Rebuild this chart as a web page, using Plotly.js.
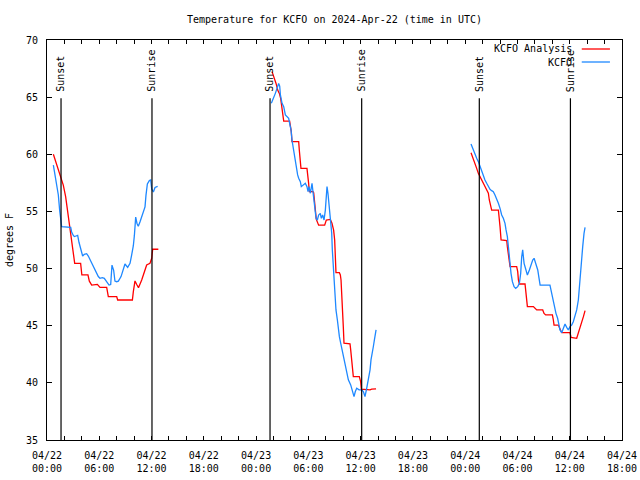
<!DOCTYPE html>
<html>
<head>
<meta charset="utf-8">
<script src="https://cdn.plot.ly/plotly-3.0.1.min.js"></script>
<style>html,body{margin:0;padding:0;background:#fff}#chart{width:640px;height:480px}</style>
</head>
<body>
<div id="chart"></div>
<script>
// Hours since 2024-04-22 00:00 UTC
const analysisHours1 = [0.73,1.3,1.57,1.87,2.14,2.37,2.6,2.83,3.02,3.18,3.86,3.94,4.0,4.7,4.86,5.13,5.7,5.78,6.08,6.85,7.04,8.0,8.11,9.8,9.91,10.1,10.3,10.5,10.87,11.14,11.44,11.82,12.02,12.13,12.78];
const analysisTemp1  = [60.0,58.6,58.0,57.3,56.3,55.0,53.7,52.4,51.5,50.46,50.46,49.59,49.44,49.44,48.9,48.56,48.56,48.62,48.36,48.36,47.55,47.55,47.25,47.25,47.98,48.92,48.6,48.33,49.0,49.73,50.31,50.46,50.9,51.69,51.69];
const analysisHours2 = [25.83,26.1,26.29,26.48,26.67,26.82,26.98,27.09,27.17,27.85,27.94,28.04,28.12,28.89,28.96,29.08,29.15,29.84,29.92,30.03,30.11,30.53,30.61,30.72,30.8,30.91,31.18,31.87,32.06,32.52,32.71,32.9,33.02,33.06,33.14,33.17,33.56,33.67,33.75,33.82,33.9,33.94,34.01,34.09,34.78,34.86,34.97,35.09,35.16,35.85,36.0,36.08,37.08,37.27,37.77];
const analysisTemp2  = [67.23,66.65,66.2,65.62,65.33,64.9,64.17,63.58,62.9,62.9,62.56,61.98,61.1,61.1,60.38,59.5,58.77,58.77,58.33,57.46,56.73,56.73,56.64,55.7,55.12,54.3,53.8,53.8,54.25,54.3,53.96,53.37,52.5,51.33,50.46,49.64,49.64,49.44,49.0,48.13,47.25,46.38,44.92,43.47,43.41,42.88,41.72,40.99,40.55,40.55,40.11,39.45,39.39,39.45,39.48];
const analysisHours3 = [48.67,48.93,49.12,49.32,49.51,49.7,49.89,50.08,50.27,50.47,50.66,50.77,50.93,51.04,51.81,51.89,52.0,52.12,52.77,52.84,52.96,53.07,53.15,53.91,54.03,54.11,54.22,54.87,54.95,55.06,55.14,55.83,56.02,56.21,56.9,57.05,57.24,58.01,58.12,58.2,58.69,58.88,59.08,60.03,60.15,60.8,60.99,61.18,61.37,61.57,61.76];
const analysisTemp3  = [60.14,59.65,59.21,58.77,58.33,58.04,57.75,57.46,57.17,56.88,56.59,56.0,55.42,55.12,55.12,54.69,53.67,52.5,52.44,51.92,51.19,50.75,50.17,50.17,49.73,49.0,48.65,48.65,48.13,47.25,46.67,46.67,46.52,46.38,46.38,46.08,45.94,45.94,45.5,45.06,45.06,44.77,44.39,44.39,43.98,43.9,44.33,44.77,45.35,45.79,46.32];

const obsHours1 = [0.73,0.92,1.11,1.3,1.45,1.57,1.68,2.72,2.83,3.02,3.14,3.33,3.52,3.67,3.9,4.09,4.28,4.55,4.74,5.0,5.32,5.59,5.89,6.08,6.35,6.58,6.85,7.12,7.31,7.46,7.65,7.8,7.99,8.19,8.5,8.76,8.95,9.26,9.53,9.72,9.91,10.03,10.18,10.33,10.48,10.68,10.87,11.14,11.25,11.36,11.52,11.75,11.9,12.02,12.21,12.4,12.7];
const obsTemp1  = [59.06,58.19,57.31,56.44,55.13,54.54,53.67,53.6,53.2,52.9,52.8,52.85,52.9,52.3,51.7,51.1,51.25,51.3,51.1,50.7,50.1,49.7,49.3,49.15,49.2,49.15,48.8,48.56,48.6,50.3,49.85,48.9,48.85,48.9,49.3,49.9,50.4,50.1,50.46,51.2,52.0,52.9,54.5,53.95,53.7,54.1,54.5,55.0,55.4,56.4,57.4,57.7,57.75,56.96,56.7,57.1,57.2];
const obsHours2 = [25.75,26.02,26.21,26.4,26.59,26.71,26.79,26.98,27.17,27.36,27.55,27.74,27.85,28.01,28.12,28.24,28.39,28.5,28.62,28.77,28.89,29.08,29.19,29.46,29.65,29.84,29.96,30.07,30.23,30.42,30.53,30.65,30.76,30.88,31.03,31.18,31.37,31.49,31.64,31.8,31.95,32.14,32.25,32.37,32.48,32.6,32.68,32.75,32.87,32.98,33.06,33.17,33.33,33.44,33.56,33.71,33.86,34.01,34.2,34.4,34.59,34.86,35.09,35.24,35.39,35.55,35.82,36.12,36.31,36.5,36.7,36.89,37.08,37.19,37.35,37.46,37.58,37.77];
const obsTemp2  = [64.46,64.9,65.33,65.77,66.2,65.97,65.19,64.46,64.17,63.44,63.3,63.15,62.71,62.13,61.25,60.67,59.8,59.21,58.63,58.19,57.9,57.6,57.17,57.31,57.46,57.17,56.73,57.17,56.59,57.46,56.59,55.7,54.83,54.4,54.25,54.69,54.83,54.4,54.69,54.25,55.12,57.17,56.59,55.7,54.54,53.67,53.1,51.64,50.17,49.0,47.25,46.38,45.5,44.63,44.04,43.47,42.88,42.3,41.57,40.99,40.26,39.82,39.24,38.8,39.24,39.53,39.39,39.39,39.24,38.8,39.53,40.26,41.14,42.01,42.59,43.18,43.76,44.63];
const obsHours3 = [48.67,48.93,49.12,49.32,49.51,49.7,49.89,50.08,50.27,50.47,50.66,50.85,51.04,51.23,51.42,51.61,51.81,52.0,52.19,52.38,52.57,52.69,52.84,52.96,53.03,53.15,53.26,53.42,53.61,53.8,54.03,54.22,54.37,54.49,54.6,54.76,54.95,55.14,55.37,55.56,55.75,55.91,56.1,56.33,56.48,56.6,57.73,57.93,58.12,58.23,58.42,58.61,58.77,58.88,59.08,59.27,59.46,59.65,59.84,60.03,60.22,60.41,60.6,60.8,60.99,61.1,61.26,61.37,61.49,61.64,61.76];
const obsTemp3  = [60.9,60.38,59.94,59.65,59.36,58.92,58.48,58.04,57.75,57.46,57.17,56.94,56.82,56.73,56.44,56.15,55.71,55.27,54.69,54.4,53.96,53.38,52.79,51.92,51.19,50.31,49.58,48.85,48.42,48.27,48.42,48.71,49.58,51.04,51.63,50.46,49.88,49.44,49.88,50.31,50.75,50.9,50.46,49.88,49.15,48.56,48.56,47.83,47.1,46.67,46.08,45.65,45.06,44.63,44.39,44.77,45.15,44.86,44.63,44.92,45.06,45.35,45.79,46.38,47.25,48.42,49.58,50.75,51.92,53.08,53.61];

const sunsetHours  = [1.61, 25.6, 49.62];
const sunriseHours = [12.05, 36.12, 60.08];
const yTicks = [35, 40, 45, 50, 55, 60, 65, 70];

const seriesNames = ['KCFO Analysis', 'KCFO'];
const seriesColors = ['#ff0000', '#1e88ff'];

const BASE = Date.UTC(2024, 3, 22, 0, 0, 0);
function toDate(h) {
  return new Date(BASE + Math.round(h * 3600000)).toISOString().slice(0, 19).replace('T', ' ');
}
function join(hs, vs) {
  const x = [], y = [];
  hs.forEach((hArr, i) => {
    if (i > 0) { x.push(null); y.push(null); }
    hArr.forEach((h, j) => { x.push(toDate(h)); y.push(vs[i][j]); });
  });
  return {x, y};
}
const an = join([analysisHours1, analysisHours2, analysisHours3], [analysisTemp1, analysisTemp2, analysisTemp3]);
const ob = join([obsHours1, obsHours2, obsHours3], [obsTemp1, obsTemp2, obsTemp3]);

const FONT = 'DejaVu Sans Mono, monospace';
const traces = [
  {x: an.x, y: an.y, type: 'scatter', mode: 'lines', name: seriesNames[0], line: {color: seriesColors[0], width: 1.3}, connectgaps: false},
  {x: ob.x, y: ob.y, type: 'scatter', mode: 'lines', name: seriesNames[1], line: {color: seriesColors[1], width: 1.3}, connectgaps: false}
];

// x ticks every 2 hours, labelled every 6 hours
const tickvals = [], ticktext = [];
for (let h = 0; h <= 66; h += 2) {
  tickvals.push(toDate(h));
  if (h % 6 === 0) {
    const d = new Date(BASE + h * 3600000);
    const mm = String(d.getUTCMonth() + 1).padStart(2, '0');
    const dd = String(d.getUTCDate()).padStart(2, '0');
    const hh = String(d.getUTCHours()).padStart(2, '0');
    ticktext.push(mm + '/' + dd + '<br>' + hh + ':00');
  } else ticktext.push('');
}

const shapes = [], annotations = [];
function sunLine(h, label) {
  shapes.push({type: 'line', xref: 'x', yref: 'y', x0: toDate(h), x1: toDate(h), y0: 35, y1: 64.9, line: {color: '#000', width: 1.2}});
  annotations.push({xref: 'x', yref: 'y', x: toDate(h), y: 65.3, text: label, textangle: -90, showarrow: false,
    xanchor: 'center', yanchor: 'bottom', font: {family: FONT, size: 10, color: '#000'}});
}
sunsetHours.forEach(h => sunLine(h, 'Sunset'));
sunriseHours.forEach(h => sunLine(h, 'Sunrise'));

// legend (text followed by line sample, as in the reference)
const legY = [0.9775, 0.945];
seriesNames.forEach((n, i) => {
  annotations.push({xref: 'paper', yref: 'paper', x: 0.9165, y: legY[i], text: n, showarrow: false,
    xanchor: 'right', yanchor: 'middle', font: {family: FONT, size: 10, color: '#000'}});
  shapes.push({type: 'line', xref: 'paper', yref: 'paper', x0: 0.930, x1: 0.979, y0: legY[i], y1: legY[i],
    line: {color: seriesColors[i], width: 1.3}});
});

const layout = {
  width: 640, height: 480,
  margin: {l: 47, r: 18, t: 40, b: 40},
  paper_bgcolor: '#fff', plot_bgcolor: '#fff',
  showlegend: false,
  font: {family: FONT, size: 10, color: '#000'},
  title: {text: 'Temperature for KCFO on 2024-Apr-22 (time in UTC)', font: {family: FONT, size: 10, color: '#000'},
    x: 0.5, xref: 'paper', y: 1 - 19 / 480, yref: 'container', yanchor: 'middle'},
  xaxis: {type: 'date', range: [toDate(0), toDate(66)], tickmode: 'array', tickvals: tickvals, ticktext: ticktext,
    ticks: 'inside', ticklen: 4, tickcolor: '#000', tickwidth: 1, showgrid: false, zeroline: false,
    showline: true, linecolor: '#000', linewidth: 1, mirror: 'ticks', ticklabelstandoff: 6,
    tickfont: {family: FONT, size: 10, color: '#000'}},
  yaxis: {range: [35, 70], tickmode: 'array', tickvals: yTicks, ticks: 'inside', ticklen: 5, tickcolor: '#000',
    showgrid: false, zeroline: false, showline: true, linecolor: '#000', linewidth: 1, mirror: 'ticks',
    ticklabelstandoff: 6, tickfont: {family: FONT, size: 10, color: '#000'},
    title: {text: 'degrees F', font: {family: FONT, size: 10, color: '#000'}, standoff: 10}},
  shapes: shapes, annotations: annotations
};

Plotly.newPlot('chart', traces, layout, {staticPlot: true, displayModeBar: false});
</script>
</body>
</html>
